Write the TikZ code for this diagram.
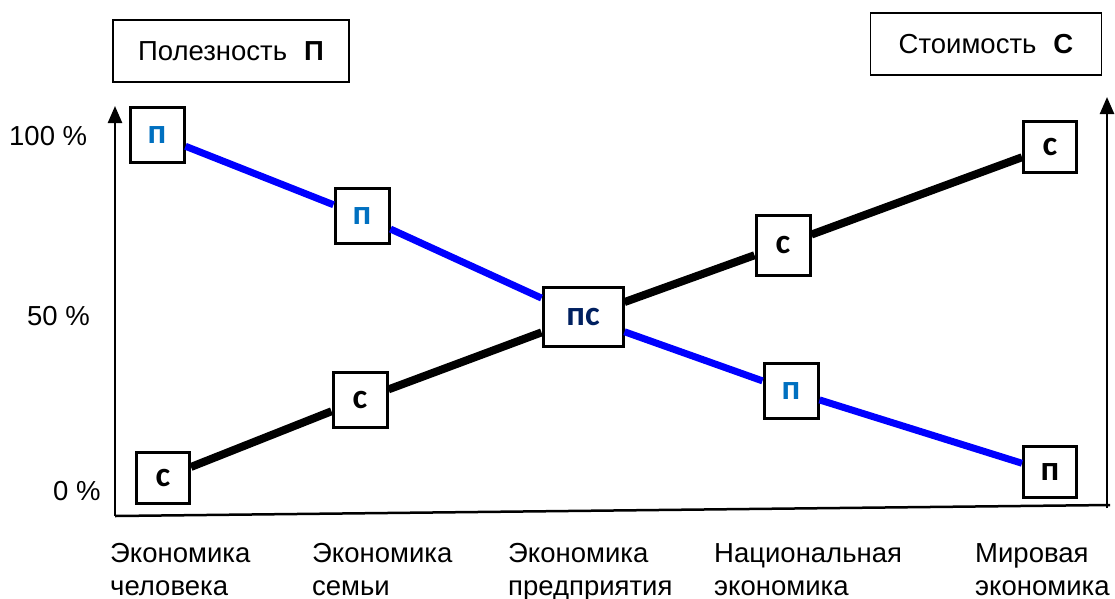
\documentclass[tikz,border=0pt]{standalone}
\usepackage{fontspec}
\setmainfont{Liberation Sans}
\newfontfamily\calfont{Carlito}
\usetikzlibrary{arrows.meta}
\definecolor{letblue}{RGB}{0,112,192}
\definecolor{letnavy}{RGB}{0,32,96}

\begin{document}
\begin{tikzpicture}[x=1pt,y=-1pt,
  every node/.style={font=\fontsize{27.5}{33}\selectfont,inner sep=0pt},
  valbox/.style={draw,line width=3pt,fill=white,minimum width=54pt,minimum height=55pt,
                 font=\calfont\bfseries\fontsize{35}{35}\selectfont},
  titlebox/.style={draw,line width=1.2pt,minimum height=62pt},
  util/.style={draw=blue,line width=7pt},
  cost/.style={draw=black,line width=8pt},
  axis/.style={line width=2.5pt}]
\useasboundingbox (0,0) rectangle (1115,598);

% titles
\node [titlebox,minimum width=236pt] (tu) at (231,51) {Полезность\hspace{17pt}\textbf{П}};
\node [titlebox,minimum width=231pt] (tc) at (986,44) {Стоимость\hspace{17pt}\textbf{С}};

% axes
\coordinate (o)  at (115,516);
\coordinate (lt) at (115,106);
\coordinate (rb) at (1107,508);
\coordinate (rt) at (1107,97);
\coordinate (xe) at (1110,505);
\draw [axis,-{Triangle[length=17pt,width=14pt]}] (o) -- (lt);
\draw [axis,-{Triangle[length=17pt,width=14pt]}] (rb) -- (rt);
\draw [axis] (o) -- (xe);

% scale
\node [anchor=base west] (y100) at (9,145) {100 \%};
\node [anchor=base west] (y50)  at (27,325) {50 \%};
\node [anchor=base west] (y0)   at (53,500) {0 \%};

% levels
\foreach \x/\t/\l in {110/{Экономика\\человека}/la,
                      312/{Экономика\\семьи}/lb,
                      508/{Экономика\\предприятия}/lc,
                      714/{Национальная\\экономика}/ld,
                      975/{Мировая\\экономика}/le}
  \node [anchor=north west,align=left] (\l) at (\x,543) {\t};

% points
\node [valbox,text=letblue] (u1) at (157,135) {п};
\node [valbox,text=letblue] (u2) at (362,216) {п};
\node [valbox,minimum width=80pt,minimum height=59pt] (uc) at (583,317) {\textcolor{letnavy}{пс}};
\node [valbox,text=letblue] (u4) at (791,391) {п};
\node [valbox,minimum width=53pt,minimum height=51pt] (u5) at (1050,472) {п};
\node [valbox,minimum width=53pt,minimum height=51pt] (c1) at (163,478) {с};
\node [valbox] (c2) at (360,400) {с};
\node [valbox,minimum height=60pt] (c4) at (783,245) {с};
\node [valbox,minimum width=53pt,minimum height=51pt] (c5) at (1050,147) {с};

\draw [util] (u1) -- (u2) -- (uc) -- (u4) -- (u5);
\draw [cost] (c1) -- (c2) -- (uc) -- (c4) -- (c5);
\end{tikzpicture}
\end{document}
